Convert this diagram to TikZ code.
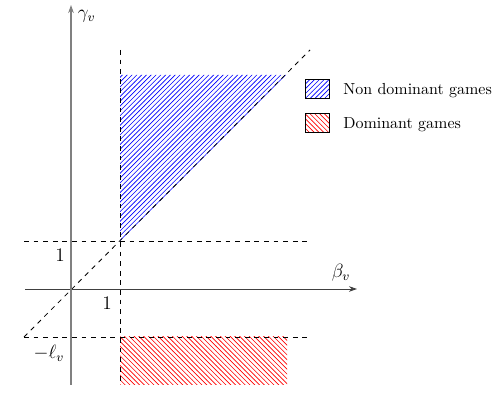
\documentclass[tikz,border=0pt]{standalone}
\usetikzlibrary{patterns,arrows.meta}
\begin{document}
\begin{tikzpicture}[x=0.625pt,y=-0.625pt,
  guide/.style={dashed,black,line width=0.5pt},
  axis/.style={-{Stealth[length=5pt,width=3.5pt]}},
  bluehatch/.style={pattern=north east lines,pattern color=blue},
  redhatch/.style={pattern=north west lines,pattern color=red},
  legendbox/.style={draw=black,minimum width=15pt,minimum height=12pt,inner sep=0pt},
  lbl/.style={inner sep=1pt,font=\large}]
\useasboundingbox (0,0) rectangle (502,399);
% regions
\fill[bluehatch] (120,241) -- (120,75) -- (286,75) -- cycle;
\fill[redhatch] (120,337) rectangle (287,385);
% named points
\coordinate (O) at (71,289);
\coordinate (xl) at (25,289);
\coordinate (xr) at (357,289);
\coordinate (yb) at (71,385);
\coordinate (yt) at (71,5);
\coordinate (h1l) at (24,241);
\coordinate (h1r) at (310,241);
\coordinate (h2l) at (24,337);
\coordinate (h2r) at (310,337);
\coordinate (vt) at (120,50);
\coordinate (vb) at (120,385);
\coordinate (dl) at (24,337);
\coordinate (dr) at (310,50);
% guides
\draw[guide] (h1l) -- (h1r);
\draw[guide] (h2l) -- (h2r);
\draw[guide] (vt) -- (vb);
\draw[guide] (dl) -- (dr);
% axes
\draw[axis,black!75,line width=0.6pt] (xl) -- (xr);
\draw[axis,black!50,line width=0.9pt] (yb) -- (yt);
% labels
\node[lbl,anchor=west] (gam) at (76,16) {$\gamma_v$};
\node[lbl] (bet) at (341,273) {$\beta_v$};
\node[lbl] (one1) at (60,255) {$1$};
\node[lbl] (one2) at (107,303) {$1$};
\node[lbl] (ell) at (49,353) {$-\ell_v$};
% legend
\node[legendbox,bluehatch] (lb1) at (317,89) {};
\node[anchor=west,inner sep=0pt] (lt1) at (343,91) {Non dominant games};
\node[legendbox,redhatch] (lb2) at (317,123) {};
\node[anchor=west,inner sep=0pt] (lt2) at (343,125) {Dominant games};
\end{tikzpicture}
\end{document}
